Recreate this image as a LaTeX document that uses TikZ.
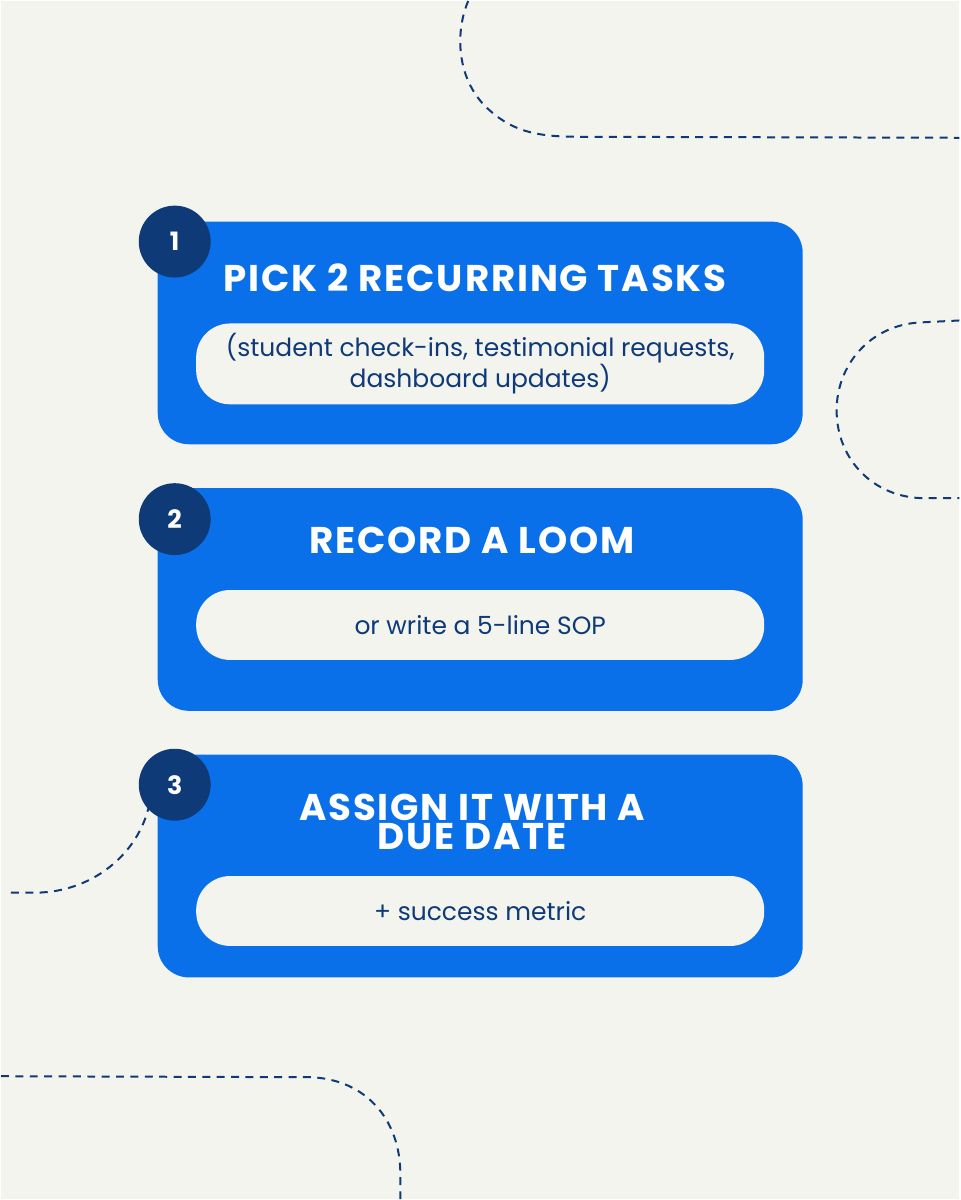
\documentclass[tikz,border=0pt]{standalone}
\usepackage{fontspec}
\setmainfont{Poppins}
\newfontfamily\titlefont[LetterSpace=5]{Poppins}
\usetikzlibrary{positioning}
\definecolor{bgcol}{HTML}{F4F4EF}
\definecolor{stepblue}{HTML}{0A70E9}
\definecolor{navy}{HTML}{0E3A78}
\tikzset{
    step-box/.style={fill=stepblue, rounded corners=7.8mm, minimum width=161.5mm, minimum height=55.75mm, inner sep=0},
    step-num/.style={circle, fill=navy, minimum size=18mm, inner sep=0, text=white, font=\fontsize{18}{18}\selectfont\bfseries},
    step-title/.style={text=white, align=center, font=\titlefont\fontsize{26.5}{21}\selectfont\bfseries},
    step-pill/.style={fill=bgcol, rounded corners=8.5mm, minimum width=142.25mm, inner sep=0, text=navy, align=center, font=\fontsize{17.8}{22}\selectfont},
    deco/.style={navy, line width=0.5mm, dash pattern=on 2mm off 1.6mm},
}
\begin{document}
\begin{tikzpicture}[x=0.25mm, y=-0.25mm]

    % BACKGROUND
    \fill[bgcol] (0,0) rectangle (960,1200);

    % DASHED CURVES
    \draw[deco] (468,0) .. controls (455,30) and (455,80) .. (490,110) .. controls (515,132) and (540,136) .. (580,136) -- (960,137);
    \draw[deco] (960,320) -- (920,322) .. controls (870,325) and (837,365) .. (837,410) .. controls (837,460) and (875,498) .. (925,498) -- (960,498);
    \draw[deco] (10,893) -- (40,893) .. controls (100,890) and (145,845) .. (150,795);
    \draw[deco] (0,1077) -- (310,1078) .. controls (365,1080) and (400,1120) .. (400,1175) -- (400,1200);

    % STEP BOXES
    \node[step-box] (BOX1) at (480,332.5) {};
    \node[step-box] (BOX2) at (480,599.5) {};
    \node[step-box] (BOX3) at (480,866.5) {};

    % NUMBERS
    \node[step-num] (NUM1) at (174,241) {1};
    \node[step-num] (NUM2) at (174,519) {2};
    \node[step-num] (NUM3) at (174,785) {3};

    % TITLES
    \node[step-title] (TTL1) at (475,277) {PICK 2 RECURRING TASKS};
    \node[step-title] (TTL2) at (472,540) {RECORD A LOOM};
    \node[step-title] (TTL3) at (472,822) {ASSIGN IT WITH A\\DUE DATE};

    % PILLS
    \node[step-pill, minimum height=20.25mm] (PIL1) at (480,363.5) {(student check-ins, testimonial requests,\\dashboard updates)};
    \node[step-pill, minimum height=17.5mm]  (PIL2) at (480,625) {or write a 5-line SOP};
    \node[step-pill, minimum height=17.5mm]  (PIL3) at (480,911.5) {+ success metric};

\end{tikzpicture}
\end{document}
